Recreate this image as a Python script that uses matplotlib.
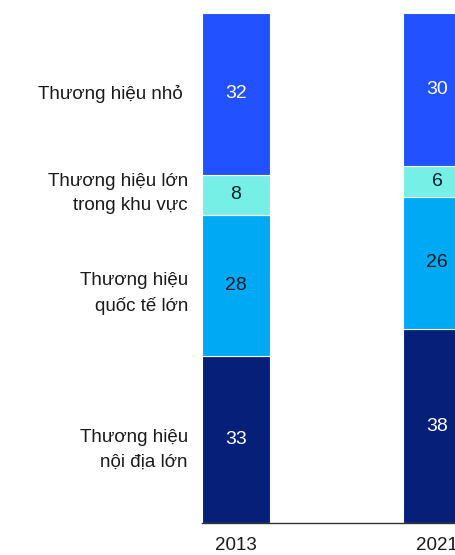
import matplotlib
matplotlib.use("Agg")
import matplotlib.pyplot as plt
import numpy as np

plt.rcParams['font.family'] = ['Liberation Sans', 'DejaVu Sans']

years = ["2013", "2021"]
segments = [
    "Thương hiệu\nnội địa lớn",
    "Thương hiệu\nquốc tế lớn",
    "Thương hiệu lớn\ntrong khu vực",
    "Thương hiệu nhỏ ",
]
# bottom to top
values = {
    "2013": [33, 28, 8, 32],
    "2021": [38, 26, 6, 30],
}
colors = ["#061F79", "#00A9F4", "#76F0E6", "#2251FF"]
text_colors = ["white", "#051C2C", "#051C2C", "white"]

fig = plt.figure(figsize=(4.55, 5.55), dpi=100)
ax = fig.add_axes([202 / 455, 32 / 555, 253 / 455, 510 / 555])

width = 0.338
x = np.arange(len(years))
for i, yr in enumerate(years):
    vals = np.array(values[yr], dtype=float)
    shares = vals / vals.sum() * 100
    bottom = 0.0
    for j, (v, s) in enumerate(zip(vals, shares)):
        ax.bar(x[i], s, width, bottom=bottom, color=colors[j],
               edgecolor="white", linewidth=0.8)
        ax.text(x[i], bottom + s / 2, f"{int(v)}", ha="center", va="center",
                fontsize=14, color=text_colors[j])
        bottom += s

# segment names next to the first bar
first = np.array(values["2013"], dtype=float)
first = first / first.sum() * 100
mids = np.cumsum(first) - first / 2
label_offsets = [-2.0, -1.6, 0.2, 0]
for name, m, off in zip(segments, mids, label_offsets):
    ax.text(-width / 2 - 0.07, m + off, name, ha="right", va="center",
            fontsize=13.5, color="#1a1a1a", linespacing=1.55, clip_on=False)

ax.set_xlim(-width / 2, -width / 2 + 253 / 201)
ax.set_ylim(0, 100)
ax.set_xticks(x)
ax.set_xticklabels(years, fontsize=13.5, color="#1a1a1a")
ax.tick_params(axis="x", length=0, pad=10)
ax.set_yticks([])
for side in ["top", "right", "left"]:
    ax.spines[side].set_visible(False)
ax.spines["bottom"].set_color("#333333")
ax.spines["bottom"].set_linewidth(1)

fig.savefig("out.png", dpi=100)
